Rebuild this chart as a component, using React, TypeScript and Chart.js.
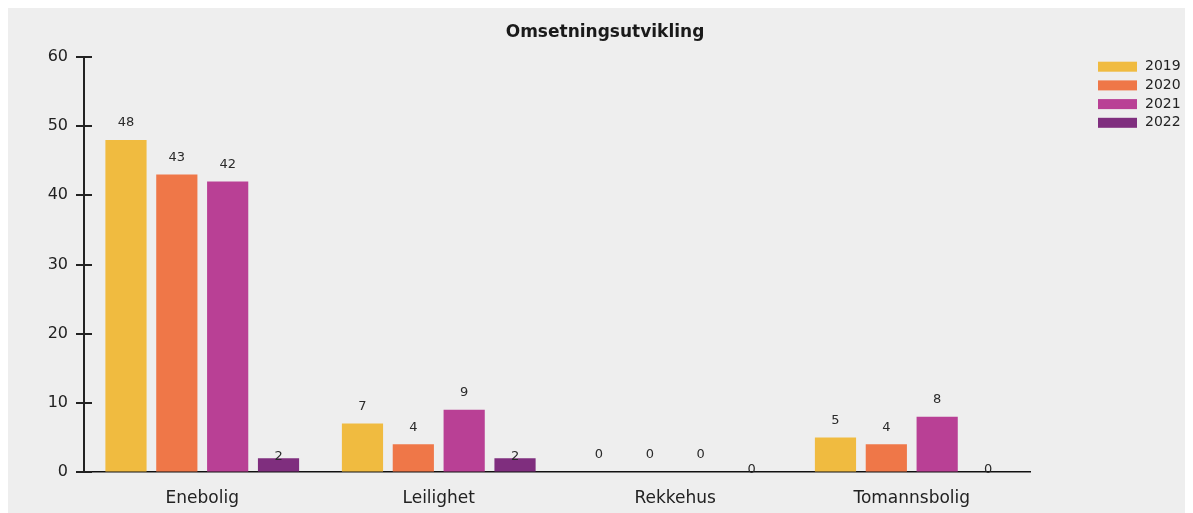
import React, { useEffect, useRef } from "react";
import { Chart, registerables } from "chart.js";

Chart.register(...registerables);

const categories = ["Enebolig", "Leilighet", "Rekkehus", "Tomannsbolig"];
const seriesLabels = ["2019", "2020", "2021", "2022"];
const values2019 = [48, 7, 0, 5];
const values2020 = [43, 4, 0, 4];
const values2021 = [42, 9, 0, 8];
const values2022 = [2, 2, 0, 0];
const seriesColors = ["#f0bb40", "#ef7748", "#b94095", "#7f2e7e"];
const labelOffsets = [17, 17, 17, 2];
const yTicks = [0, 10, 20, 30, 40, 50, 60];
const titleText = "Omsetningsutvikling";

const FONT = "'DejaVu Sans', Verdana, sans-serif";

const titlePlugin = {
  id: "customTitle",
  afterDraw(chart: any) {
    const ctx = chart.ctx;
    ctx.save();
    ctx.font = `bold 17px ${FONT}`;
    ctx.fillStyle = "#1a1a1a";
    ctx.textAlign = "center";
    ctx.textBaseline = "middle";
    ctx.fillText(titleText, 597, 25);
    ctx.restore();
  },
};

const valueLabelsPlugin = {
  id: "valueLabels",
  afterDatasetsDraw(chart: any) {
    const ctx = chart.ctx;
    ctx.save();
    ctx.font = `13px ${FONT}`;
    ctx.fillStyle = "#2a2a2a";
    ctx.textAlign = "center";
    ctx.textBaseline = "middle";
    chart.data.datasets.forEach((ds: any, di: number) => {
      const meta = chart.getDatasetMeta(di);
      meta.data.forEach((el: any, i: number) => {
        const v = ds.data[i];
        ctx.fillText(String(v), el.x, el.y - labelOffsets[di]);
      });
    });
    ctx.restore();
  },
};

const axisTicksPlugin = {
  id: "axisTicks",
  afterDraw(chart: any) {
    const ctx = chart.ctx;
    const y = chart.scales.y;
    const x0 = chart.chartArea.left;
    ctx.save();
    ctx.strokeStyle = "#222222";
    ctx.lineWidth = 2;
    y.ticks.forEach((t: any) => {
      const py = Math.round(y.getPixelForValue(t.value));
      ctx.beginPath();
      ctx.moveTo(x0 - 8, py);
      ctx.lineTo(x0 + 8, py);
      ctx.stroke();
    });
    ctx.restore();
  },
};

const legendPlugin = {
  id: "customLegend",
  afterDraw(chart: any) {
    const ctx = chart.ctx;
    ctx.save();
    ctx.font = `14px ${FONT}`;
    ctx.textBaseline = "middle";
    ctx.textAlign = "left";
    chart.data.datasets.forEach((ds: any, i: number) => {
      const cy = 58.7 + i * 18.7;
      ctx.fillStyle = ds.backgroundColor;
      ctx.fillRect(1090, cy - 5, 39, 10);
      ctx.fillStyle = "#222222";
      ctx.fillText(ds.label, 1137, cy);
    });
    ctx.restore();
  },
};

export default function App() {
  const ref = useRef<HTMLCanvasElement | null>(null);
  useEffect(() => {
    if (!ref.current) return;
    const series = [values2019, values2020, values2021, values2022];
    const chart = new Chart(ref.current, {
      type: "bar",
      data: {
        labels: categories,
        datasets: series.map((d, i) => ({
          label: seriesLabels[i],
          data: d,
          backgroundColor: seriesColors[i],
          borderWidth: 0,
          categoryPercentage: 0.86,
          barPercentage: 0.81,
        })),
      },
      options: {
        responsive: false,
        animation: false,
        layout: { padding: { left: 0, right: 163, top: 49, bottom: 0 } },
        plugins: {
          legend: { display: false },
          tooltip: { enabled: false },
          title: { display: false },
        },
        scales: {
          x: {
            grid: { display: false },
            border: { display: true, color: "#111111", width: 1.5 },
            ticks: { color: "#222222", font: { family: FONT, size: 17 }, padding: 8 },
            afterFit: (s: any) => {
              s.height = 41;
            },
          },
          y: {
            min: 0,
            max: 60,
            afterBuildTicks: (s: any) => {
              s.ticks = yTicks.map((v) => ({ value: v }));
            },
            grid: { display: true, drawOnChartArea: false, drawTicks: true, tickLength: 8, color: "rgba(0,0,0,0)" },
            border: { display: true, color: "#222222", width: 2 },
            ticks: { color: "#222222", font: { family: FONT, size: 16 }, padding: 8 },
            afterFit: (s: any) => {
              s.width = 76;
            },
          },
        },
      },
      plugins: [valueLabelsPlugin, axisTicksPlugin, legendPlugin, titlePlugin],
    } as any);
    return () => chart.destroy();
  }, []);
  return (
    <div style={{ background: "#eeeeee", width: 1185, height: 505 }}>
      <canvas ref={ref} width={1185} height={505} style={{ display: "block" }} />
    </div>
  );
}
